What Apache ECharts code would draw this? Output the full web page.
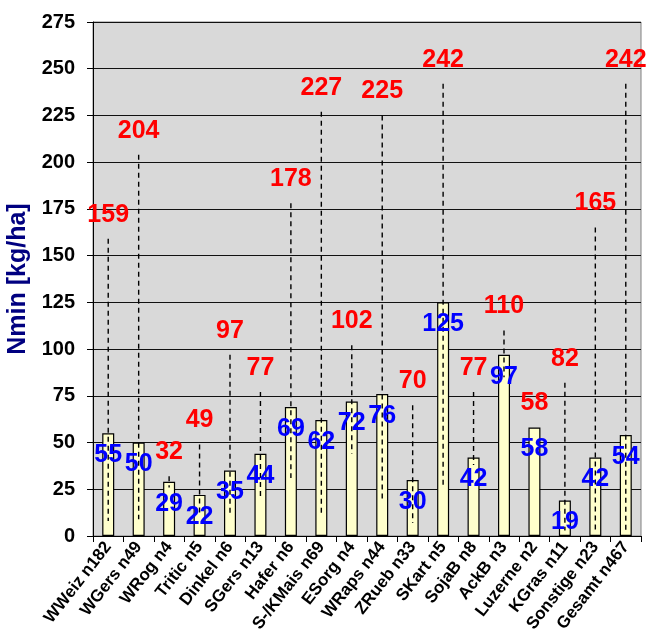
<!DOCTYPE html>
<html>
<head>
<meta charset="utf-8">
<script src="https://cdn.jsdelivr.net/npm/echarts@6/dist/echarts.min.js"></script>
<style>
  html, body { margin: 0; padding: 0; background: #fff; }
  #chart { width: 647px; height: 632px; }
</style>
</head>
<body>
<div id="chart"></div>
<script>
// Kulturen mit Anzahl Proben
const categories = ['WWeiz n182', 'WGers n49', 'WRog n4', 'Tritic n5', 'Dinkel n6', 'SGers n13', 'Hafer n6', 'S-/KMais n69', 'ESorg n4', 'WRaps n44', 'ZRueb n33', 'SKart n5', 'SojaB n8', 'AckB n3', 'Luzerne n2', 'KGras n11', 'Sonstige n23', 'Gesamt n467']
// Mittelwert (Balken, blau)
const meanVals = [55, 50, 29, 22, 35, 44, 69, 62, 72, 76, 30, 125, 42, 97, 58, 19, 42, 54]
// Maximum (rot)
const maxVals = [159, 204, 32, 49, 97, 77, 178, 227, 102, 225, 70, 242, 77, 110, 58, 82, 165, 242]
// Minimum (unteres Ende der Strichlinie)
const minVals = [8, 9, 26, 12, 11, 21, 31, 11, 44, 18, 7, 26, 38, 85, 58, 3, 2, 3]
const yTicks = [0, 275, 25]

const font = 'Liberation Sans, Arial, sans-serif'
const chart = echarts.init(document.getElementById('chart'))

const rangeData = categories.map((c, i) => [i, minVals[i], maxVals[i], meanVals[i]])

chart.setOption({
  animation: false,
  grid: {
    left: 93, right: 6, top: 22, bottom: 96, outerBoundsMode: 'none', containLabel: false,
    show: true, backgroundColor: '#d9d9d9', borderColor: '#808080', borderWidth: 1,
  },
  xAxis: {
    type: 'category', data: categories,
    axisLine: { lineStyle: { color: '#000', width: 1 } },
    axisTick: { show: true, length: 6, lineStyle: { color: '#000' } },
    axisLabel: { interval: 0, rotate: 52, margin: 8, color: '#000', fontFamily: font, fontWeight: 'bold', fontSize: 17 },
  },
  yAxis: {
    type: 'value', min: yTicks[0], max: yTicks[1], interval: yTicks[2],
    name: 'Nmin [kg/ha]', nameLocation: 'middle', nameGap: 52,
    nameTextStyle: { color: '#000080', fontFamily: font, fontWeight: 'bold', fontSize: 25 },
    axisLine: { show: true, lineStyle: { color: '#000', width: 1 } },
    axisTick: { show: true, length: 6, lineStyle: { color: '#000' } },
    axisLabel: { margin: 18, color: '#000', fontFamily: font, fontWeight: 'bold', fontSize: 20 },
    splitLine: { lineStyle: { color: '#111', width: 1 } },
  },
  series: [
    {
      type: 'bar', data: meanVals, barWidth: 12, z: 2,
      itemStyle: { color: '#ffffcc', borderColor: '#000', borderWidth: 1.2 },
    },
    {
      type: 'custom', z: 3, data: rangeData,
      renderItem: (params, api) => {
        const lo = api.coord([api.value(0), api.value(1)])
        const hi = api.coord([api.value(0), api.value(2)])
        const mid = api.coord([api.value(0), api.value(3)])
        return {
          type: 'group',
          children: [
            { type: 'line', shape: { x1: hi[0], y1: hi[1], x2: lo[0], y2: lo[1] },
              style: { stroke: '#000', lineWidth: 1.4, lineDash: [5, 4] } },
            { type: 'text', x: hi[0], y: hi[1] - 24,
              style: { text: String(api.value(2)), fill: '#ff0000', font: 'bold 25px ' + font, align: 'center', verticalAlign: 'middle' } },
            { type: 'text', x: mid[0], y: mid[1] + 22,
              style: { text: String(api.value(3)), fill: '#0000ff', font: 'bold 25px ' + font, align: 'center', verticalAlign: 'middle' } },
          ],
        }
      },
    },
  ],
})
</script>
</body>
</html>
